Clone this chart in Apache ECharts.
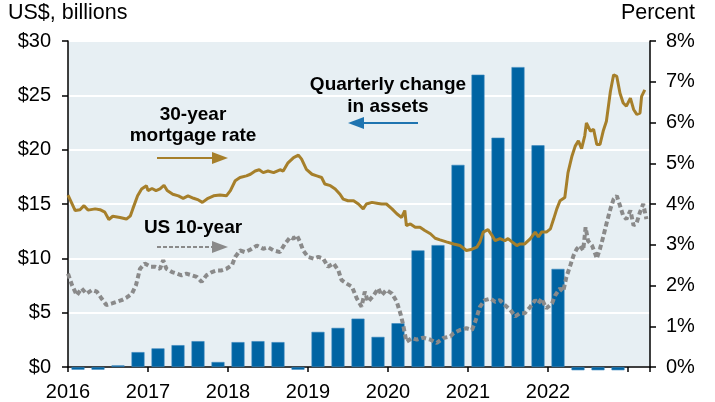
<!DOCTYPE html>
<html>
<head>
<meta charset="utf-8">
<script src="https://cdn.jsdelivr.net/npm/echarts@6/dist/echarts.min.js"></script>
<style>
html,body{margin:0;padding:0;background:#fff;}
#chart{width:715px;height:402px;}
</style>
</head>
<body>
<div id="chart"></div>
<script>
// Quarterly change in assets (US$ billions), left axis
const quarters = ['2016Q1','2016Q2','2016Q3','2016Q4','2017Q1','2017Q2','2017Q3','2017Q4',
  '2018Q1','2018Q2','2018Q3','2018Q4','2019Q1','2019Q2','2019Q3','2019Q4',
  '2020Q1','2020Q2','2020Q3','2020Q4','2021Q1','2021Q2','2021Q3','2021Q4',
  '2022Q1','2022Q2','2022Q3','2022Q4'];
const assetChange = [-0.25,-0.25,0.15,1.37, 1.71,2.01,2.38,0.46,
  2.29,2.38,2.29,-0.25, 3.23,3.6,4.45,2.77,
  4.03,10.73,11.22,18.6, 26.9,21.1,27.6,20.4,
  9.03,-0.3,-0.3,-0.3];

// 30-year mortgage rate (%), right axis: [decimal year, percent]
const mortgageRate = [
 [2016.00,4.22],[2016.09,3.84],[2016.15,3.86],[2016.20,3.96],[2016.25,3.85],[2016.34,3.88],
 [2016.40,3.86],[2016.46,3.80],[2016.51,3.62],[2016.56,3.70],[2016.65,3.67],[2016.73,3.63],
 [2016.78,3.71],[2016.81,3.88],[2016.87,4.20],[2016.92,4.37],[2016.98,4.45],[2017.00,4.33],
 [2017.05,4.38],[2017.10,4.33],[2017.15,4.37],[2017.20,4.46],[2017.24,4.33],[2017.31,4.24],
 [2017.38,4.20],[2017.44,4.14],[2017.50,4.20],[2017.57,4.14],[2017.63,4.10],[2017.68,4.04],
 [2017.75,4.14],[2017.82,4.20],[2017.90,4.22],[2017.98,4.20],[2018.03,4.33],[2018.09,4.57],
 [2018.15,4.65],[2018.23,4.69],[2018.28,4.73],[2018.34,4.81],[2018.39,4.84],[2018.44,4.77],
 [2018.50,4.81],[2018.57,4.77],[2018.65,4.84],[2018.69,4.81],[2018.75,5.01],[2018.82,5.14],
 [2018.88,5.20],[2018.92,5.10],[2018.98,4.85],[2019.05,4.73],[2019.11,4.69],[2019.17,4.65],
 [2019.21,4.49],[2019.28,4.45],[2019.34,4.37],[2019.40,4.24],[2019.44,4.12],[2019.50,4.08],
 [2019.57,4.08],[2019.63,4.00],[2019.69,3.88],[2019.73,4.00],[2019.80,4.04],[2019.86,4.02],
 [2019.92,4.00],[2019.98,4.00],[2020.05,3.88],[2020.11,3.76],[2020.17,3.67],[2020.21,3.84],
 [2020.23,3.47],[2020.28,3.51],[2020.34,3.43],[2020.40,3.43],[2020.46,3.35],[2020.53,3.27],
 [2020.59,3.16],[2020.65,3.12],[2020.73,3.07],[2020.82,3.02],[2020.90,2.98],[2020.98,2.86],
 [2021.05,2.89],[2021.11,2.94],[2021.15,3.07],[2021.19,3.31],[2021.25,3.37],[2021.30,3.23],
 [2021.34,3.10],[2021.40,3.15],[2021.46,3.10],[2021.50,3.15],[2021.55,3.07],[2021.61,2.98],
 [2021.65,3.02],[2021.71,3.02],[2021.78,3.15],[2021.84,3.31],[2021.88,3.19],[2021.92,3.31],
 [2021.98,3.31],[2022.03,3.39],[2022.07,3.63],[2022.11,3.88],[2022.15,4.08],[2022.21,4.16],
 [2022.25,4.77],[2022.30,5.18],[2022.34,5.42],[2022.38,5.55],[2022.42,5.36],[2022.46,5.68],
 [2022.48,5.99],[2022.53,5.79],[2022.57,5.83],[2022.61,5.46],[2022.65,5.46],[2022.69,5.79],
 [2022.73,6.03],[2022.78,6.76],[2022.82,7.17],[2022.86,7.13],[2022.90,6.72],[2022.94,6.48],
 [2022.98,6.40],[2023.03,6.60],[2023.07,6.32],[2023.11,6.20],[2023.15,6.23],[2023.17,6.64],
 [2023.21,6.80]
];

// US 10-year Treasury yield (%), right axis: [decimal year, percent]
const us10y = [
 [2016.00,2.29],[2016.05,2.01],[2016.11,1.76],[2016.17,1.93],[2016.23,1.80],[2016.30,1.89],
 [2016.36,1.85],[2016.42,1.68],[2016.48,1.52],[2016.55,1.56],[2016.61,1.60],[2016.67,1.64],
 [2016.73,1.70],[2016.80,1.80],[2016.85,2.01],[2016.90,2.41],[2016.96,2.54],[2017.03,2.46],
 [2017.09,2.46],[2017.15,2.41],[2017.19,2.62],[2017.23,2.41],[2017.30,2.33],[2017.36,2.29],
 [2017.42,2.25],[2017.48,2.29],[2017.55,2.25],[2017.61,2.21],[2017.67,2.09],[2017.73,2.25],
 [2017.80,2.33],[2017.86,2.37],[2017.92,2.37],[2017.98,2.41],[2018.05,2.50],[2018.09,2.70],
 [2018.15,2.86],[2018.21,2.82],[2018.28,2.88],[2018.36,2.98],[2018.44,2.90],[2018.50,2.94],
 [2018.57,2.86],[2018.65,2.82],[2018.71,3.02],[2018.78,3.19],[2018.82,3.15],[2018.86,3.23],
 [2018.90,3.07],[2018.94,2.86],[2019.00,2.70],[2019.07,2.66],[2019.13,2.70],[2019.19,2.66],
 [2019.25,2.46],[2019.32,2.54],[2019.38,2.37],[2019.42,2.13],[2019.48,2.05],[2019.55,1.97],
 [2019.61,1.68],[2019.67,1.48],[2019.71,1.85],[2019.75,1.60],[2019.82,1.76],[2019.88,1.93],
 [2019.92,1.76],[2019.98,1.89],[2020.05,1.80],[2020.11,1.60],[2020.16,1.28],[2020.19,1.03],
 [2020.23,0.62],[2020.30,0.71],[2020.36,0.67],[2020.44,0.72],[2020.53,0.67],[2020.61,0.59],
 [2020.69,0.71],[2020.78,0.75],[2020.82,0.83],[2020.90,0.91],[2020.98,0.95],[2021.05,0.91],
 [2021.09,1.11],[2021.15,1.48],[2021.21,1.64],[2021.28,1.68],[2021.34,1.60],[2021.40,1.64],
 [2021.46,1.52],[2021.53,1.40],[2021.59,1.24],[2021.65,1.32],[2021.71,1.32],[2021.78,1.48],
 [2021.84,1.64],[2021.88,1.56],[2021.92,1.68],[2021.98,1.44],[2022.05,1.56],[2022.09,1.76],
 [2022.15,1.93],[2022.19,1.85],[2022.23,2.21],[2022.28,2.50],[2022.32,2.74],[2022.36,2.90],
 [2022.40,2.98],[2022.44,2.86],[2022.47,3.43],[2022.50,3.10],[2022.55,2.98],[2022.59,2.78],
 [2022.61,2.66],[2022.65,2.90],[2022.69,3.19],[2022.73,3.51],[2022.78,3.88],[2022.82,4.12],
 [2022.86,4.20],[2022.90,3.96],[2022.94,3.71],[2022.98,3.63],[2023.03,3.84],[2023.07,3.47],
 [2023.11,3.55],[2023.15,3.80],[2023.19,4.00],[2023.23,3.63]
];

const yearLabels = ['2016','2017','2018','2019','2020','2021','2022'];
const leftTicks = [0,5,10,15,20,25,30];
const rightTicks = [0,1,2,3,4,5,6,7,8];

// quarter label -> mid-quarter decimal year
function quarterMid(q){ return parseInt(q.slice(0,4),10) + (parseInt(q.slice(5),10)-0.5)/4; }
const barData = quarters.map((q,i)=>[quarterMid(q), assetChange[i]]);

const FONT = '"Liberation Sans", Arial, sans-serif';
const GOLD = '#a67f2a', GRAY = '#8a8a8a', BLUE = '#0064a3';

const chart = echarts.init(document.getElementById('chart'), null, {renderer:'canvas'});
chart.setOption({
  animation:false,
  backgroundColor:'#ffffff',
  grid:{left:68,right:65,top:41,bottom:33,show:true,backgroundColor:'#e7eff3',borderWidth:0},
  xAxis:{
    type:'value', min:2016, max:2023.275, interval:1,
    axisLine:{show:true,lineStyle:{color:'#000',width:1.5}},
    axisTick:{show:true,length:5,inside:false,lineStyle:{color:'#000',width:1.5}},
    axisLabel:{fontFamily:FONT,fontSize:20,color:'#000',margin:15,
      formatter:v=>{const i=yearLabels.indexOf(String(v));return i>=0?yearLabels[i]:'';}},
    splitLine:{show:false}
  },
  yAxis:[{
    type:'value', min:leftTicks[0], max:leftTicks[leftTicks.length-1], interval:5, position:'left',
    axisLine:{show:true,lineStyle:{color:'#000',width:1.5}},
    axisTick:{show:true,length:6,lineStyle:{color:'#000',width:1.5}},
    axisLabel:{fontFamily:FONT,fontSize:20,color:'#000',margin:17,formatter:v=>'$'+v},
    splitLine:{show:true,lineStyle:{color:'#ffffff',width:2}}
  },{
    type:'value', min:rightTicks[0], max:rightTicks[rightTicks.length-1], interval:1, position:'right',
    axisLine:{show:true,lineStyle:{color:'#000',width:1.5}},
    axisTick:{show:true,length:6,lineStyle:{color:'#000',width:1.5}},
    axisLabel:{fontFamily:FONT,fontSize:20,color:'#000',margin:16,formatter:v=>v+'%'},
    splitLine:{show:false}
  }],
  series:[{
    type:'bar', yAxisIndex:0, data:barData, barWidth:13, clip:false,
    itemStyle:{color:BLUE,borderColor:'#3b86bd',borderWidth:0.6}, z:2
  },{
    type:'line', yAxisIndex:1, data:mortgageRate, showSymbol:false, symbol:'none',
    lineStyle:{color:GOLD,width:3}, z:4
  },{
    type:'line', yAxisIndex:1, data:us10y, showSymbol:false, symbol:'none',
    lineStyle:{color:GRAY,width:4,type:[5,3]}, z:3
  }],
  graphic:[
    {type:'text',left:8,top:2,style:{text:'US$, billions',font:'21.5px '+FONT,fill:'#000'}},
    {type:'text',right:20,top:2,style:{text:'Percent',font:'21.5px '+FONT,fill:'#000'}},
    {type:'text',x:193,y:114.5,style:{text:'30-year',font:'bold 19px '+FONT,fill:'#000',align:'center',verticalAlign:'middle'}},
    {type:'text',x:193,y:136,style:{text:'mortgage rate',font:'bold 19px '+FONT,fill:'#000',align:'center',verticalAlign:'middle'}},
    {type:'line',shape:{x1:157,y1:158,x2:215,y2:158},style:{stroke:GOLD,lineWidth:1.8}},
    {type:'polygon',shape:{points:[[212,152],[228,158],[212,164]]},style:{fill:GOLD}},
    {type:'text',x:193,y:228,style:{text:'US 10-year',font:'bold 19px '+FONT,fill:'#000',align:'center',verticalAlign:'middle'}},
    {type:'line',shape:{x1:157,y1:247,x2:214,y2:247},style:{stroke:GRAY,lineWidth:1.8,lineDash:[4,2]}},
    {type:'polygon',shape:{points:[[212,241],[228,247],[212,253]]},style:{fill:GRAY}},
    {type:'text',x:388,y:85,style:{text:'Quarterly change',font:'bold 19px '+FONT,fill:'#000',align:'center',verticalAlign:'middle'}},
    {type:'text',x:388,y:107,style:{text:'in assets',font:'bold 19px '+FONT,fill:'#000',align:'center',verticalAlign:'middle'}},
    {type:'line',shape:{x1:360,y1:123,x2:418,y2:123},style:{stroke:'#1f74b0',lineWidth:1.8}},
    {type:'polygon',shape:{points:[[364,117],[348,123],[364,129]]},style:{fill:'#1f74b0'}}
  ]
});
</script>
</body>
</html>
